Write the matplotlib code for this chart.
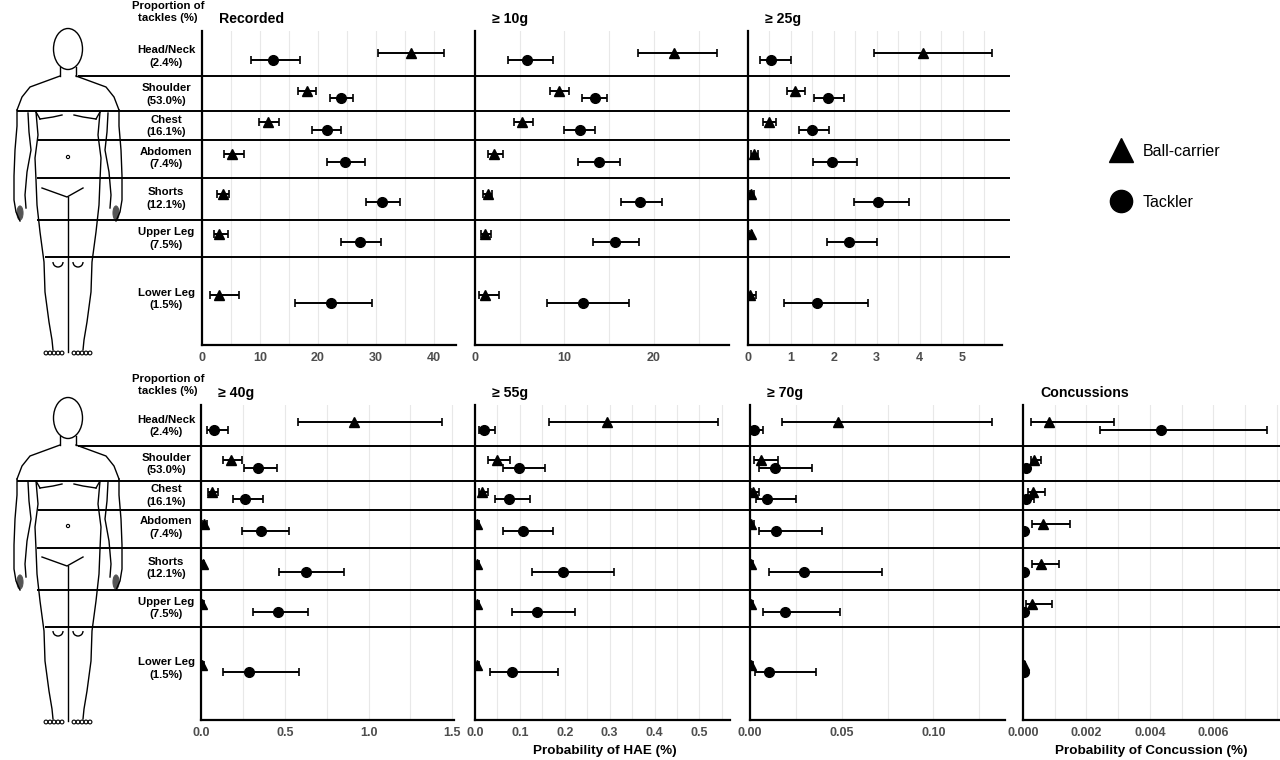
import numpy as np
import matplotlib
matplotlib.use("Agg")
import matplotlib.pyplot as plt
from matplotlib.lines import Line2D
from matplotlib.patches import Ellipse, Arc, Circle

plt.rcParams['font.family'] = ['Liberation Sans', 'DejaVu Sans']

# ---------------- data ----------------
regions = ["Head/Neck", "Shoulder", "Chest", "Abdomen", "Shorts", "Upper Leg", "Lower Leg"]
proportions = ["2.4%", "53.0%", "16.1%", "7.4%", "12.1%", "7.5%", "1.5%"]

# Recorded
rec_bc = [36.0, 18.1, 11.4, 5.2, 3.6, 3.0, 3.0]
rec_bc_lo = [30.4, 16.5, 9.8, 3.8, 2.6, 2.1, 1.4]
rec_bc_hi = [41.8, 19.7, 13.3, 7.2, 4.7, 4.4, 6.4]
rec_tk = [12.2, 24.0, 21.5, 24.7, 31.0, 27.2, 22.2]
rec_tk_lo = [8.4, 22.0, 19.0, 21.6, 28.2, 23.9, 16.1]
rec_tk_hi = [16.9, 26.0, 23.9, 28.1, 34.1, 30.8, 29.3]

# >= 10g
g10_bc = [22.2, 9.4, 5.3, 2.1, 1.4, 1.1, 1.1]
g10_bc_lo = [18.2, 8.4, 4.4, 1.4, 0.9, 0.7, 0.4]
g10_bc_hi = [27.1, 10.5, 6.5, 3.1, 1.9, 1.8, 2.7]
g10_tk = [5.8, 13.4, 11.7, 13.9, 18.4, 15.6, 12.1]
g10_tk_lo = [3.7, 12.0, 9.9, 11.5, 16.3, 13.2, 8.0]
g10_tk_hi = [8.7, 14.8, 13.4, 16.2, 20.9, 18.3, 17.2]

# >= 25g
g25_bc = [4.08, 1.10, 0.49, 0.13, 0.08, 0.06, 0.05]
g25_bc_lo = [2.93, 0.90, 0.35, 0.07, 0.04, 0.03, 0.01]
g25_bc_hi = [5.69, 1.34, 0.65, 0.23, 0.13, 0.10, 0.19]
g25_tk = [0.54, 1.86, 1.50, 1.95, 3.04, 2.35, 1.60]
g25_tk_lo = [0.28, 1.53, 1.20, 1.51, 2.46, 1.83, 0.85]
g25_tk_hi = [1.00, 2.23, 1.88, 2.54, 3.75, 3.00, 2.79]

# >= 40g
g40_bc = [0.914, 0.180, 0.065, 0.016, 0.010, 0.008, 0.008]
g40_bc_lo = [0.580, 0.134, 0.043, 0.005, 0.004, 0.003, 0.002]
g40_bc_hi = [1.440, 0.245, 0.100, 0.035, 0.020, 0.020, 0.020]
g40_tk = [0.077, 0.343, 0.264, 0.361, 0.628, 0.462, 0.288]
g40_tk_lo = [0.034, 0.255, 0.193, 0.243, 0.464, 0.312, 0.130]
g40_tk_hi = [0.162, 0.456, 0.373, 0.523, 0.855, 0.641, 0.586]

# >= 55g
g55_bc = [0.295, 0.048, 0.016, 0.005, 0.004, 0.004, 0.004]
g55_bc_lo = [0.164, 0.030, 0.009, 0.002, 0.001, 0.001, 0.001]
g55_bc_hi = [0.542, 0.078, 0.030, 0.010, 0.008, 0.008, 0.008]
g55_tk = [0.020, 0.099, 0.075, 0.106, 0.195, 0.137, 0.082]
g55_tk_lo = [0.008, 0.063, 0.044, 0.063, 0.126, 0.082, 0.033]
g55_tk_hi = [0.044, 0.156, 0.122, 0.174, 0.309, 0.223, 0.184]

# >= 70g
g70_bc = [0.0480, 0.0060, 0.0016, 0.0008, 0.0008, 0.0008, 0.0008]
g70_bc_lo = [0.0176, 0.0020, 0.0004, 0.0002, 0.0002, 0.0002, 0.0002]
g70_bc_hi = [0.1320, 0.0155, 0.0047, 0.0020, 0.0018, 0.0018, 0.0018]
g70_tk = [0.0020, 0.0134, 0.0093, 0.0141, 0.0295, 0.0190, 0.0105]
g70_tk_lo = [0.0004, 0.0050, 0.0030, 0.0050, 0.0103, 0.0070, 0.0025]
g70_tk_hi = [0.0070, 0.0340, 0.0250, 0.0390, 0.0717, 0.0488, 0.0360]

# Concussions
con_bc = [0.00081, 0.00036, 0.00032, 0.00063, 0.00056, 0.00027, 0.00003]
con_bc_lo = [0.00026, 0.00024, 0.00015, 0.00028, 0.00027, 0.00008, 0.00001]
con_bc_hi = [0.00286, 0.00057, 0.00070, 0.00148, 0.00115, 0.00092, 0.00006]
con_tk = [0.00434, 0.00010, 0.00008, 0.00003, 0.00004, 0.00004, 0.00004]
con_tk_lo = [0.00244, 0.00003, 0.00002, 0.00001, 0.00001, 0.00001, 0.00001]
con_tk_hi = [0.00768, 0.00020, 0.00035, 0.00006, 0.00008, 0.00008, 0.00008]

titles = ["Recorded", "\u2265 10g", "\u2265 25g", "\u2265 40g", "\u2265 55g", "\u2265 70g", "Concussions"]

# ---------------- layout (pixel units of a 1280x760 canvas) ----------------
W, H = 1280, 760
ROW_OFF = [0.0, 369.5]
tri_y = [52.7, 90.7, 122.3, 154.0, 194.3, 234.3, 295.3]
circ_y = [60.3, 98.3, 129.7, 161.7, 202.3, 242.3, 302.7]
sep_y = [76, 111, 140, 178, 220, 257]
sep_x0 = [78, 17, 38, 37, 37, 45]

panels = [
    # title, data, x0, x1, row, xmax, ticks, minor, fmt
    (titles[0], (rec_bc, rec_bc_lo, rec_bc_hi, rec_tk, rec_tk_lo, rec_tk_hi), 202, 456, 0, 43.8, [0, 10, 20, 30, 40], 5, "{:.0f}"),
    (titles[1], (g10_bc, g10_bc_lo, g10_bc_hi, g10_tk, g10_tk_lo, g10_tk_hi), 475, 729, 0, 28.4, [0, 10, 20], 5, "{:.0f}"),
    (titles[2], (g25_bc, g25_bc_lo, g25_bc_hi, g25_tk, g25_tk_lo, g25_tk_hi), 748, 1002, 0, 5.92, [0, 1, 2, 3, 4, 5], 0.5, "{:.0f}"),
    (titles[3], (g40_bc, g40_bc_lo, g40_bc_hi, g40_tk, g40_tk_lo, g40_tk_hi), 201, 454, 1, 1.51, [0, 0.5, 1.0, 1.5], 0.25, "{:.1f}"),
    (titles[4], (g55_bc, g55_bc_lo, g55_bc_hi, g55_tk, g55_tk_lo, g55_tk_hi), 475, 730, 1, 0.568, [0, 0.1, 0.2, 0.3, 0.4, 0.5], 0.05, "{:.1f}"),
    (titles[5], (g70_bc, g70_bc_lo, g70_bc_hi, g70_tk, g70_tk_lo, g70_tk_hi), 750, 1005, 1, 0.139, [0, 0.05, 0.10], 0.025, "{:.2f}"),
    (titles[6], (con_bc, con_bc_lo, con_bc_hi, con_tk, con_tk_lo, con_tk_hi), 1023, 1280, 1, 0.0081, [0, 0.002, 0.004, 0.006], 0.001, "{:.3f}"),
]

AX_TOP = [31, 405]
AX_BOT = [345, 720]

fig = plt.figure(figsize=(12.8, 7.6), dpi=100)
fig.patch.set_facecolor("white")


def fx(px):
    return px / W


def fy(py):
    return 1 - py / H


TICK_COLOR = "#4d4d4d"

for (title, data, x0, x1, row, xmax, ticks, minor, fmt) in panels:
    bc, bc_lo, bc_hi, tk, tk_lo, tk_hi = data
    top, bot = AX_TOP[row], AX_BOT[row]
    ax = fig.add_axes([fx(x0), fy(bot), (x1 - x0) / W, (bot - top) / H])
    off = ROW_OFF[row]
    ax.set_ylim(bot - off, top - off)
    ax.set_xlim(0, xmax)
    bc = np.array(bc); tk = np.array(tk)
    ax.errorbar(bc, tri_y, xerr=[bc - np.array(bc_lo), np.array(bc_hi) - bc],
                fmt="^", color="black", ms=7.5, elinewidth=1.4, capsize=2.6, capthick=1.2, zorder=3)
    ax.errorbar(tk, circ_y, xerr=[tk - np.array(tk_lo), np.array(tk_hi) - tk],
                fmt="o", color="black", ms=7, elinewidth=1.4, capsize=2.6, capthick=1.2, zorder=3)
    ax.set_xticks(ticks)
    ax.set_xticklabels([fmt.format(t) for t in ticks])
    minors = np.arange(0, xmax + 1e-12, minor)
    ax.set_xticks(minors, minor=True)
    ax.set_yticks([])
    ax.tick_params(axis="x", which="both", length=0, pad=5, labelsize=9, labelcolor=TICK_COLOR)
    for lab in ax.get_xticklabels():
        lab.set_fontweight("bold")
    ax.grid(axis="x", which="both", color="#e8e8e8", lw=0.8, zorder=0)
    for s in ["top", "right"]:
        ax.spines[s].set_visible(False)
    for s in ["left", "bottom"]:
        ax.spines[s].set_color("black")
        ax.spines[s].set_linewidth(1.6)
    ax.set_facecolor("none")
    fig.text(fx(x0 + 17), fy(top - 12), title, fontsize=10.2, fontweight="bold",
             ha="left", va="center")

# x labels
fig.text(fx(605), fy(751), "Probability of HAE (%)", fontsize=9.7, fontweight="bold", ha="center", va="center")
fig.text(fx(1151), fy(751), "Probability of Concussion (%)", fontsize=9.7, fontweight="bold", ha="center", va="center")

# overlay for separators, row labels and body figures
ov = fig.add_axes([0, 0, 1, 1], zorder=10)
ov.set_xlim(0, W)
ov.set_ylim(H, 0)
ov.axis("off")
ov.patch.set_alpha(0)

right_end = [1010, 1280]
for r in range(2):
    off = [0, 369.7][r]
    for y, x0 in zip(sep_y, sep_x0):
        ov.plot([x0, right_end[r]], [y + off, y + off], color="black", lw=1.4, solid_capstyle="butt")
    ov.text(168, 12 + [0, 373][r], "Proportion of\ntackles (%)", ha="center", va="center",
            fontsize=8.2, fontweight="bold", linespacing=1.25)
    for i, (reg, p) in enumerate(zip(regions, proportions)):
        yc = (tri_y[i] + circ_y[i]) / 2 + ROW_OFF[r]
        ov.text(166, yc, f"{reg}\n({p})", ha="center", va="center", fontsize=8.2,
                fontweight="bold", linespacing=1.3)


def draw_body(o):
    lw = 1.0
    c = "black"

    def pl(pts, mirror=True):
        xs = [p[0] for p in pts]
        ys = [p[1] + o for p in pts]
        ov.plot(xs, ys, color=c, lw=lw)
        if mirror:
            ov.plot([136 - x for x in xs], ys, color=c, lw=lw)

    ov.add_patch(Ellipse((68, 49 + o), 29, 41, fill=False, color=c, lw=lw))
    pl([(60, 67), (60, 76)])
    pl([(60, 76), (30, 87), (22, 97), (17, 110)])
    # arms
    pl([(17, 110), (17, 126), (15, 150), (14, 176), (14, 200), (16, 212), (20, 221)])
    pl([(28, 113), (29, 132), (31, 150), (27, 172), (25, 195), (26, 208)])
    # torso / legs outer
    pl([(36, 112), (38, 135), (35, 158), (36, 180), (37, 205), (40, 232), (44, 262),
        (45, 292), (49, 322), (52, 340), (53, 350)])
    ov.plot([68, 68], [197 + o, 352 + o], color=c, lw=lw)
    # groin
    ov.plot([42, 67, 83], [188 + o, 197 + o, 188 + o], color=c, lw=lw)
    # chest
    pl([(40, 119), (53, 117), (62, 115)])
    pl([(36, 112), (40, 119)])
    # navel
    ov.add_patch(Circle((68, 157 + o), 1.6, fill=False, color=c, lw=0.8))
    # knees
    for kx in (58, 78):
        ov.add_patch(Arc((kx, 262 + o), 10, 10, theta1=0, theta2=180, color=c, lw=lw))
    # hands (shaded gloves)
    for hx in (20, 116):
        ov.add_patch(Ellipse((hx, 213 + o), 6, 14, color="#555555", lw=0.8))
    # feet
    for fxp in (46, 50, 54, 58, 62, 74, 78, 82, 86, 90):
        ov.add_patch(Circle((fxp, 353 + o), 1.9, fill=False, color=c, lw=0.8))


draw_body(0)
draw_body(369)

# legend
handles = [Line2D([], [], marker="^", color="black", ls="none", ms=17),
           Line2D([], [], marker="o", color="black", ls="none", ms=16)]
fig.legend(handles, ["Ball-carrier", "Tackler"], loc="center left",
           bbox_to_anchor=(fx(1099), fy(177)), frameon=False, fontsize=11.5,
           labelspacing=2.25, handletextpad=0.35, borderaxespad=0)

fig.savefig("out.png", dpi=100, facecolor="white")
